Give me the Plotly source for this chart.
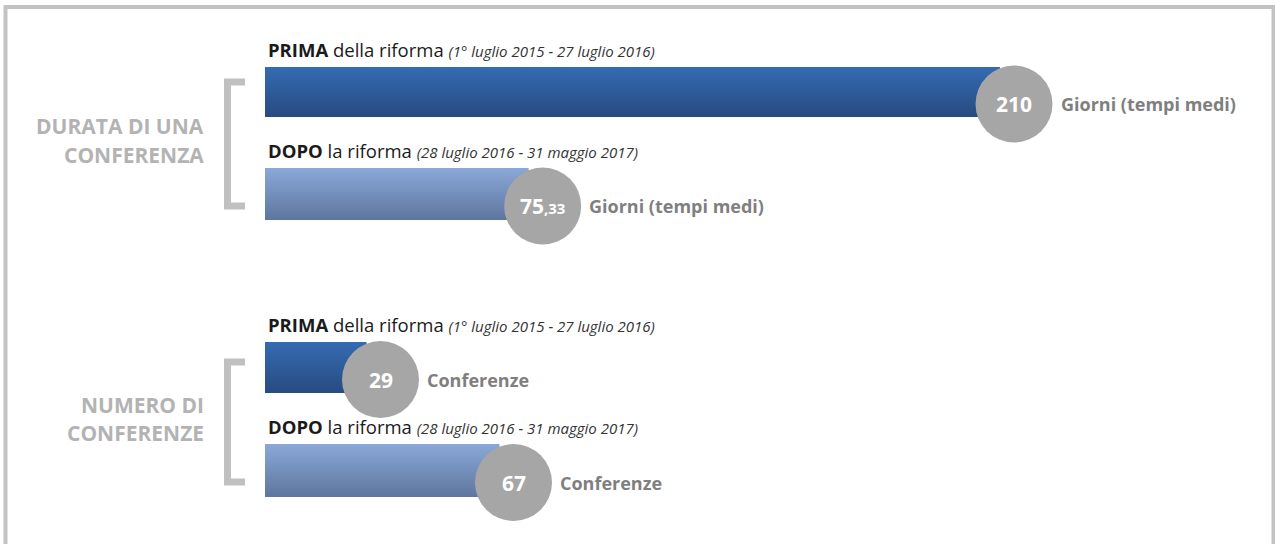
import plotly.graph_objects as go

# ---- data ----
sections = [["DURATA DI UNA", "CONFERENZA"], ["NUMERO DI", "CONFERENZE"]]
periods = ["PRIMA", "DOPO", "PRIMA", "DOPO"]
values = [210, 75.33, 29, 67]
value_labels = ["210", "75<span style='font-size:15px'>,33</span>", "29", "67"]
units = ["Giorni (tempi medi)", "Giorni (tempi medi)", "Conferenze", "Conferenze"]
subtitles = [
    "<b>PRIMA</b> della riforma <i><span style='font-size:15px;color:#333'>(1° luglio 2015 - 27 luglio 2016)</span></i>",
    "<b>DOPO</b> la riforma <i><span style='font-size:15px;color:#333'>(28 luglio 2016 - 31 maggio 2017)</span></i>",
    "<b>PRIMA</b> della riforma <i><span style='font-size:15px;color:#333'>(1° luglio 2015 - 27 luglio 2016)</span></i>",
    "<b>DOPO</b> la riforma <i><span style='font-size:15px;color:#333'>(28 luglio 2016 - 31 maggio 2017)</span></i>",
]

# ---- layout constants (pixel rows) ----
W, H = 1275, 544
X0 = 265          # bar origin in pixels
K = 3.5           # pixels per unit
bar_rows = [(67, 117), (168, 220), (342, 393), (444, 497)]
section_rows = [(126, 155), (405, 433)]
circle_dy = 12
circle_dx = 14
R = 38.5
dark = ("rgb(53,107,178)", "rgb(39,75,128)")
light = ("rgb(138,168,216)", "rgb(94,118,158)")
styles = [dark, light, dark, light]
FONT = "Open Sans"

fig = go.Figure()

for v, (t, b), (c0, c1) in zip(values, bar_rows, styles):
    fig.add_trace(go.Scatter(
        x=[0, v, v, 0, 0], y=[t, t, b, b, t],
        mode="lines", line=dict(width=0, color=c0),
        fill="toself",
        fillgradient=dict(type="vertical", colorscale=[[0, c0], [1, c1]], start=t, stop=b),
        hoverinfo="skip", showlegend=False,
    ))

shapes = []
annotations = []

# frame
shapes.append(dict(type="path", xref="x2", yref="y",
                   path=f"M 5.5 {H + 10} L 5.5 7 L 1273.5 7 L 1273.5 {H + 10}",
                   line=dict(color="#c3c3c3", width=4), layer="below"))
# brackets
for (y0, y1) in [(82, 206), (362, 482)]:
    shapes.append(dict(type="path", xref="x2", yref="y",
                       path=f"M 245 {y0} L 227.5 {y0} L 227.5 {y1} L 245 {y1}",
                       line=dict(color="#c0c0c0", width=7), layer="below"))

for i, (v, (t, b)) in enumerate(zip(values, bar_rows)):
    cy = (t + b) / 2 + circle_dy
    shapes.append(dict(type="circle", xref="x", yref="y",
                       xsizemode="pixel", ysizemode="pixel",
                       xanchor=v, yanchor=cy,
                       x0=circle_dx - R, x1=circle_dx + R, y0=-R, y1=R,
                       fillcolor="#a6a6a6", line=dict(width=0), layer="above"))
    annotations.append(dict(x=v, y=cy, xref="x", yref="y", xshift=circle_dx,
                            text=f"<b>{value_labels[i]}</b>", showarrow=False,
                            font=dict(family=FONT, size=21, color="white"),
                            xanchor="center", yanchor="middle"))
    annotations.append(dict(x=v, y=cy, xref="x", yref="y", xshift=circle_dx + R + 6,
                            text=f"<b>{units[i]}</b>", showarrow=False,
                            font=dict(family=FONT, size=18, color="#7f7f7f"),
                            xanchor="left", yanchor="middle"))
    annotations.append(dict(x=266, y=t - 3, xref="x2", yref="y",
                            text=subtitles[i], showarrow=False,
                            font=dict(family=FONT, size=18.5, color="#1a1a1a"),
                            xanchor="left", yanchor="bottom"))

for lines, rows in zip(sections, section_rows):
    for txt, yc in zip(lines, rows):
        annotations.append(dict(x=206, y=yc, xref="x2", yref="y", text=f"<b>{txt}</b>",
                                showarrow=False, align="right",
                                font=dict(family=FONT, size=21, color="#b3b3b3"),
                                xanchor="right", yanchor="middle"))

fig.update_layout(
    width=W, height=H,
    margin=dict(l=0, r=0, t=0, b=0),
    paper_bgcolor="white", plot_bgcolor="white",
    xaxis=dict(range=[-X0 / K, (W - X0) / K], visible=False, fixedrange=True),
    xaxis2=dict(range=[0, W], visible=False, overlaying="x", fixedrange=True),
    yaxis=dict(range=[H, 0], visible=False, fixedrange=True),
    shapes=shapes, annotations=annotations,
    hovermode=False, showlegend=False,
)

fig.write_html("out.html", config={"displayModeBar": False},
               post_script="document.body.style.margin='0';")
